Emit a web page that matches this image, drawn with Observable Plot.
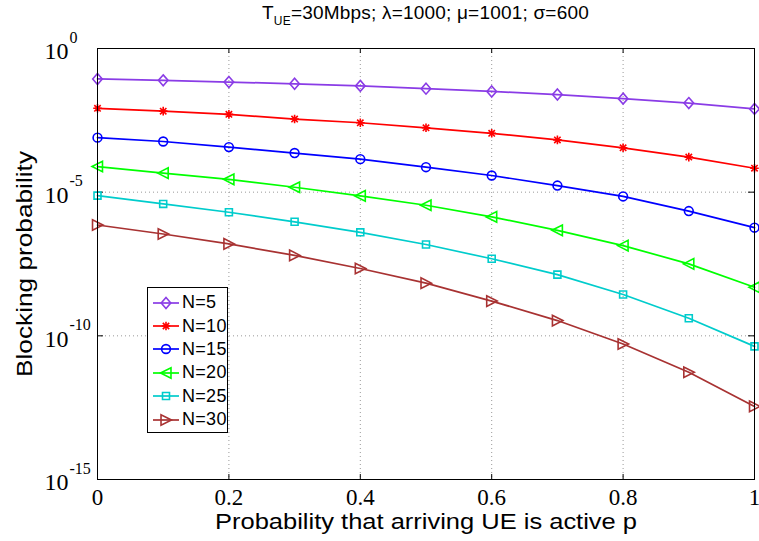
<!DOCTYPE html>
<html>
<head>
<meta charset="utf-8">
<script src="https://cdn.jsdelivr.net/npm/d3@7"></script>
<script src="https://cdn.jsdelivr.net/npm/@observablehq/plot@0.6"></script>
<style>
  html, body { margin: 0; padding: 0; background: #fff; }
  #wrap { position: relative; width: 759px; height: 541px; overflow: hidden; }
  #title { position: absolute; left: 97px; width: 657px; top: 3px; text-align: center;
    font-family: "Liberation Sans", Arial, sans-serif; font-size: 19px; line-height: 20px; color: #000; white-space: nowrap; letter-spacing: 0.2px; }
  #title sub { font-size: 12px; vertical-align: -6px; line-height: 0; }
  #chart { position: absolute; left: 0; top: 30px; }
  #legend { position: absolute; left: 147px; top: 287px; width: 81px; height: 146px; border: 1px solid #000;
    background: #fff; box-sizing: border-box; padding-top: 3px; }
  .row { height: 23.4px; display: flex; align-items: center; font-family: "Liberation Sans", Arial, sans-serif;
    font-size: 18px; color: #000; letter-spacing: 0.3px; }
  .row svg { margin-left: 4px; margin-right: 2px; }
</style>
</head>
<body>
<div id="wrap">
  <div id="title">T<sub>UE</sub>=30Mbps; λ=1000; μ=1001; σ=600</div>
  <div id="chart"></div>
  <div id="legend"></div>
</div>
<script>
// ---- data ----
const pValues = [0, 0.1, 0.2, 0.3, 0.4, 0.5, 0.6, 0.7, 0.8, 0.9, 1];
const seriesN = [5, 10, 15, 20, 25, 30];
const blockN5  = [8.7e-2, 7.8e-2, 6.8e-2, 5.9e-2, 5.0e-2, 4.0e-2, 3.2e-2, 2.5e-2, 1.8e-2, 1.26e-2, 7.9e-3];
const blockN10 = [8.3e-3, 6.6e-3, 5.1e-3, 3.5e-3, 2.6e-3, 1.74e-3, 1.12e-3, 6.6e-4, 3.5e-4, 1.66e-4, 6.8e-5];
const blockN15 = [7.9e-4, 5.8e-4, 3.7e-4, 2.3e-4, 1.41e-4, 7.4e-5, 3.8e-5, 1.7e-5, 7.1e-6, 2.2e-6, 5.8e-7];
const blockN20 = [7.8e-5, 4.6e-5, 2.8e-5, 1.48e-5, 7.4e-6, 3.5e-6, 1.38e-6, 4.7e-7, 1.38e-7, 3.2e-8, 4.9e-9];
const blockN25 = [7.6e-6, 3.9e-6, 2.0e-6, 9.3e-7, 4.0e-7, 1.51e-7, 4.8e-8, 1.35e-8, 2.75e-9, 4.1e-10, 4.3e-11];
const blockN30 = [7.2e-7, 3.5e-7, 1.58e-7, 6.3e-8, 2.2e-8, 6.8e-9, 1.62e-9, 3.4e-10, 5.2e-11, 5.4e-12, 3.5e-13];
const xTicks = [0, 0.2, 0.4, 0.6, 0.8, 1];
const xTickLabels = ["0", "0.2", "0.4", "0.6", "0.8", "1"];
const yTicks = [1, 1e-5, 1e-10, 1e-15];
const yTickExponents = ["0", "-5", "-10", "-15"];
const xGrid = [0.2, 0.4, 0.6, 0.8];
const yGrid = [1e-5, 1e-10];
const xLabel = "Probability that arriving UE is active p";
const yLabel = "Blocking probability";

// ---- styles ----
const colors = ["#8A3CE6", "#FF0000", "#0000FF", "#00FF00", "#00CCCC", "#A83232"];

// custom marker shapes (MATLAB-like), scaled by size
function unit(size) { return Math.sqrt(size) / 8; }
const symDiamond = { draw(c, s) { const u = unit(s); c.moveTo(0, -5.5*u); c.lineTo(4.8*u, 0); c.lineTo(0, 5.5*u); c.lineTo(-4.8*u, 0); c.closePath(); } };
const symSquare = { draw(c, s) { const u = unit(s), h = 3.5*u; c.moveTo(-h, -h); c.lineTo(h, -h); c.lineTo(h, h); c.lineTo(-h, h); c.closePath(); } };
const symTriLeft = { draw(c, s) { const u = unit(s); c.moveTo(-5.5*u, 0); c.lineTo(5*u, -5.3*u); c.lineTo(5*u, 5.3*u); c.closePath(); } };
const symTriRight = { draw(c, s) { const u = unit(s); c.moveTo(5.5*u, 0); c.lineTo(-5*u, -5.3*u); c.lineTo(-5*u, 5.3*u); c.closePath(); } };
const symCircle = { draw(c, s) { const u = unit(s), r = 4.4*u; c.moveTo(r, 0); c.arc(0, 0, r, 0, 2*Math.PI); } };
const symStar = { draw(c, s) { const u = unit(s), a = 4.3*u, d = 3.2*u;
  c.moveTo(-a, 0); c.lineTo(a, 0); c.moveTo(0, -a); c.lineTo(0, a);
  c.moveTo(-d, -d); c.lineTo(d, d); c.moveTo(-d, d); c.lineTo(d, -d); } };
const symbols = [symDiamond, symStar, symCircle, symTriLeft, symSquare, symTriRight];

const allSeries = [blockN5, blockN10, blockN15, blockN20, blockN25, blockN30];
const rows = [];
allSeries.forEach((vals, si) => vals.forEach((v, i) => rows.push({ N: seriesN[si], si, p: pValues[i], v })));

const R = 4.5; // -> size ≈ 64, unit ≈ 1
const plotH = 431, plotW = 657;

const marks = [
  Plot.ruleX(xGrid, { x: d => d, stroke: "#999", strokeWidth: 1, strokeDasharray: "1,3" }),
  Plot.ruleY(yGrid, { y: d => d, stroke: "#999", strokeWidth: 1, strokeDasharray: "1,3" }),
  // inward ticks on all four sides
  Plot.ruleX(xTicks, { x: d => d, stroke: "#000", insetTop: plotH - 5 }),
  Plot.ruleX(xTicks, { x: d => d, stroke: "#000", insetBottom: plotH - 5 }),
  Plot.ruleY(yTicks, { y: d => d, stroke: "#000", insetRight: plotW - 6 }),
  Plot.ruleY(yTicks, { y: d => d, stroke: "#000", insetLeft: plotW - 6 }),
];
seriesN.forEach((n, si) => {
  const data = rows.filter(d => d.si === si);
  marks.push(Plot.line(data, { x: "p", y: "v", stroke: colors[si], strokeWidth: 1.7 }));
  marks.push(Plot.dot(data, { x: "p", y: "v", stroke: colors[si], fill: "none", strokeWidth: 1.6, r: R, symbol: symbols[si] }));
});
marks.push(
  Plot.frame({ stroke: "#000", strokeWidth: 1 }),
  Plot.text(xTicks, { x: d => d, text: (d, i) => xTickLabels[i], frameAnchor: "bottom", dy: 18,
    lineAnchor: "middle", textAnchor: "middle",
    fontSize: 23, fontFamily: "Liberation Serif", fill: "#000" }),
  Plot.text(yTicks, { y: d => d, text: () => "10", frameAnchor: "left", dx: -29, dy: 3, textAnchor: "end",
    lineAnchor: "middle", fontSize: 24, fontFamily: "Liberation Serif", fill: "#000" }),
  Plot.text(yTicks, { y: d => d, text: (d, i) => yTickExponents[i], frameAnchor: "left", dx: -28, dy: -11, textAnchor: "start",
    lineAnchor: "middle", fontSize: 16, fontFamily: "Liberation Serif", fill: "#000" }),
  Plot.text([yLabel], { text: d => d, frameAnchor: "left", dx: -73, rotate: -90, textAnchor: "middle", lineAnchor: "middle",
    fontSize: 22, fontFamily: "Liberation Sans", fill: "#000" }),
  Plot.text([xLabel], { text: d => d, frameAnchor: "bottom", dy: 42, textAnchor: "middle", lineAnchor: "middle",
    fontSize: 22, fontFamily: "Liberation Sans", fill: "#000" })
);

const chart = Plot.plot({
  width: 759, height: 511,
  marginTop: 18, marginBottom: 62, marginLeft: 97, marginRight: 5,
  x: { domain: [0, 1], axis: null },
  y: { type: "log", domain: [1e-15, 1], axis: null },
  style: { background: "white", overflow: "visible" },
  marks
});
document.getElementById("chart").appendChild(chart);

// widen the axis-label glyphs like the reference rendering
d3.select(chart).selectAll("text").each(function () {
  const t = this.textContent;
  if (t === yLabel) d3.select(this).attr("textLength", 226).attr("lengthAdjust", "spacingAndGlyphs");
  if (t === xLabel) d3.select(this).attr("textLength", 422).attr("lengthAdjust", "spacingAndGlyphs");
});

// ---- legend ----
const legend = d3.select("#legend");
seriesN.forEach((n, si) => {
  const row = legend.append("div").attr("class", "row");
  const svg = row.append("svg").attr("width", 28).attr("height", 20);
  svg.append("line").attr("x1", 1).attr("x2", 27).attr("y1", 10).attr("y2", 10)
    .attr("stroke", colors[si]).attr("stroke-width", 1.7);
  const path = d3.path();
  symbols[si].draw(path, Math.PI * R * R);
  svg.append("path").attr("d", path.toString()).attr("transform", "translate(14,10)")
    .attr("fill", "none").attr("stroke", colors[si]).attr("stroke-width", 1.6);
  row.append("span").text("N=" + n);
});
</script>
</body>
</html>
